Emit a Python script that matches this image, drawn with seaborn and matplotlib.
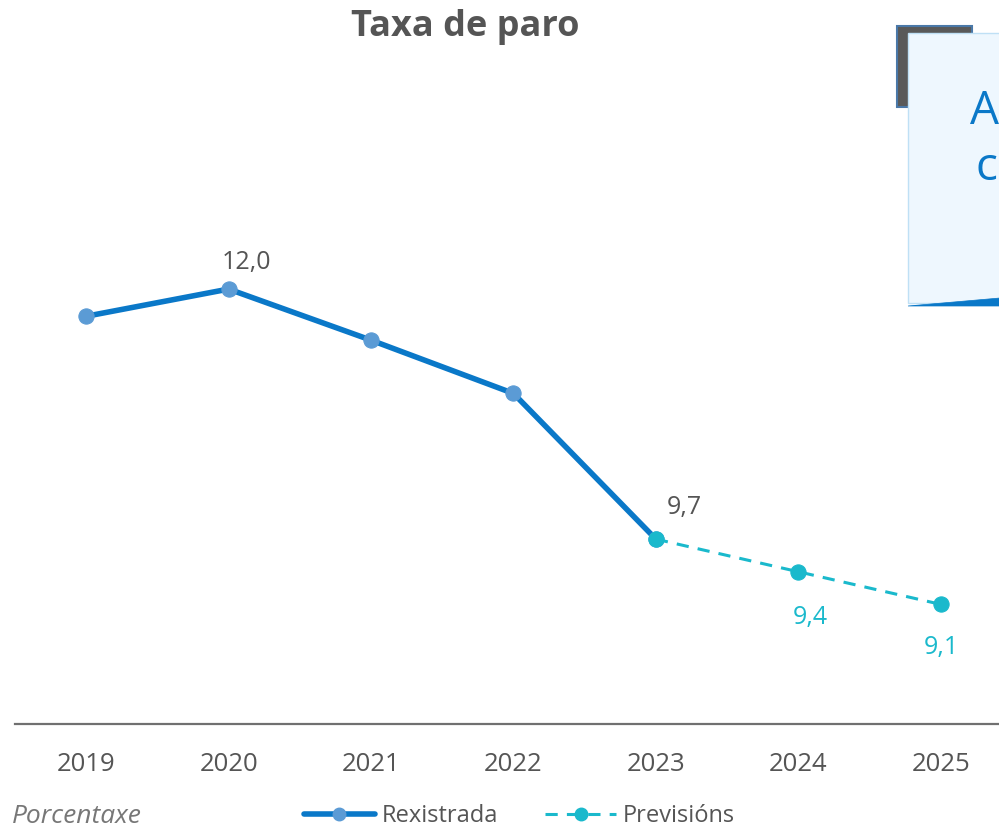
import matplotlib
matplotlib.use("Agg")
import matplotlib.pyplot as plt
import seaborn as sns
import pandas as pd
from matplotlib.lines import Line2D
from matplotlib.patches import Rectangle, Polygon

years = ["2019", "2020", "2021", "2022", "2023", "2024", "2025"]
registered_years = ["2019", "2020", "2021", "2022", "2023"]
registered = [11.75, 12.0, 11.53, 11.04, 9.7]
forecast_years = ["2023", "2024", "2025"]
forecast = [9.7, 9.4, 9.1]
labels = {"2020": "12,0", "2023": "9,7", "2024": "9,4", "2025": "9,1"}

sns.set_theme(style="white")
plt.rcParams["font.family"] = ["Open Sans", "DejaVu Sans"]

BLUE = "#0a78c8"
LIGHT = "#5b9bd5"
CYAN = "#1ab9cc"
GRAY = "#555555"

fig = plt.figure(figsize=(9.99, 8.31), dpi=100)
ax = fig.add_axes([0.015, 0.1288, 0.998, 0.785])

pos = {y: i for i, y in enumerate(years)}
df_r = pd.DataFrame({"x": [pos[y] for y in registered_years], "v": registered})
df_f = pd.DataFrame({"x": [pos[y] for y in forecast_years], "v": forecast})

sns.lineplot(data=df_r, x="x", y="v", ax=ax, color=BLUE, linewidth=4,
             marker="o", markersize=11, markerfacecolor=LIGHT,
             markeredgecolor=LIGHT, zorder=3)
sns.lineplot(data=df_f, x="x", y="v", ax=ax, color=CYAN, linewidth=2.2,
             linestyle=(0, (4, 3)), marker="o", markersize=11,
             markerfacecolor=CYAN, markeredgecolor=CYAN, zorder=4)

ax.set_xlim(-0.5, 6.5)
ax.set_ylim(8.0, 14.0)
ax.set_xticks(range(len(years)))
ax.set_xticklabels(years, fontsize=18.5, color=GRAY)
ax.tick_params(axis="x", length=0, pad=20)
ax.set_yticks([])
ax.set_xlabel("")
ax.set_ylabel("")
for s in ["top", "right", "left"]:
    ax.spines[s].set_visible(False)
ax.spines["bottom"].set_color("#707070")
ax.spines["bottom"].set_linewidth(1.6)

vals = dict(zip(registered_years, registered))
vals.update(dict(zip(forecast_years, forecast)))
offsets = {"2020": (18, 27), "2023": (28, 32), "2024": (12, -46), "2025": (1, -43)}
colors = {"2020": GRAY, "2023": GRAY, "2024": CYAN, "2025": CYAN}
for y, txt in labels.items():
    dx, dy = offsets[y]
    ax.annotate(txt, (pos[y], vals[y]), xytext=(dx * 0.72, dy * 0.72),
                textcoords="offset points", ha="center", va="center",
                fontsize=18, color=colors[y])

fig.text(0.466, 0.967, "Taxa de paro", ha="center", va="center",
         fontsize=26, fontweight="bold", color=GRAY)

fig.text(0.012, 0.017, "Porcentaxe", ha="left", va="center",
         fontsize=19, style="italic", color="#777777")

handles = [
    Line2D([0], [0], color=BLUE, linewidth=4, marker="o", markersize=9,
           markerfacecolor=LIGHT, markeredgecolor=LIGHT),
    Line2D([0], [0], color=CYAN, linewidth=2.2, linestyle=(0, (4, 3)),
           marker="o", markersize=9, markerfacecolor=CYAN, markeredgecolor=CYAN),
]
fig.legend(handles, ["Rexistrada", "Previsións"], loc="center",
           bbox_to_anchor=(0.52, 0.018), ncol=2, frameon=False,
           fontsize=17, labelcolor=GRAY, handlelength=3.0,
           columnspacing=2.0, handletextpad=0.3)

# Cut-off callout box at top right (figure pixel coords -> fractions)
W, H = 999, 831
def fx(x):
    return x / W
def fy(y):
    return 1 - y / H

fig.patches.append(Rectangle((fx(897), fy(107)), fx(972) - fx(897), fy(26) - fy(107),
                             transform=fig.transFigure, facecolor="#595959",
                             edgecolor="#4a78a8", linewidth=1.5, zorder=1))
fig.patches.append(Rectangle((fx(908), fy(303)), fx(1010) - fx(908), fy(33) - fy(303),
                             transform=fig.transFigure, facecolor="#eef7fe",
                             edgecolor="#bfe0f5", linewidth=1.0, zorder=2))
fig.patches.append(Polygon([(fx(908), fy(306)), (fx(1000), fy(298)),
                            (fx(1000), fy(306))], closed=True,
                           transform=fig.transFigure, facecolor=BLUE,
                           edgecolor=BLUE, linewidth=0.5, zorder=3))
fig.text(fx(970), fy(112), "A", ha="left", va="center", fontsize=33,
         color=BLUE, zorder=5)
fig.text(fx(998), fy(168), "c", ha="right", va="center", fontsize=33,
         color=BLUE, zorder=5)

fig.savefig("out.png", dpi=100)
